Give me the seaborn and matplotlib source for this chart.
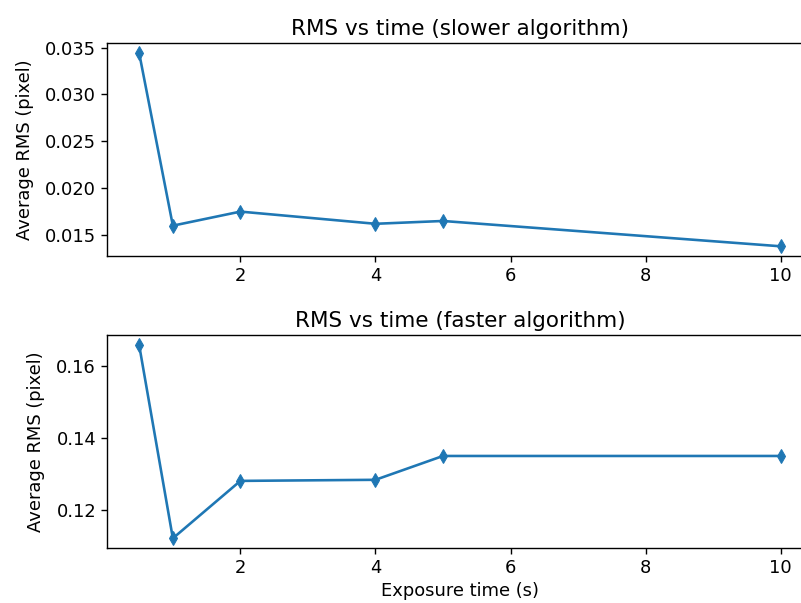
import matplotlib
matplotlib.use("Agg")
import matplotlib.pyplot as plt
import seaborn as sns
import pandas as pd

exposure = [0.5, 1, 2, 4, 5, 10]
rms_slow = [0.03445, 0.0160, 0.0175, 0.0162, 0.0165, 0.0138]
rms_fast = [0.1658, 0.1122, 0.1281, 0.1284, 0.1350, 0.1350]
titles = ["RMS vs time (slower algorithm)", "RMS vs time (faster algorithm)"]
ylabel = "Average RMS (pixel)"
xlabel = "Exposure time (s)"
xticks = [2, 4, 6, 8, 10]

s = 1.25
f = 1.03
plt.rcParams.update({
    "font.size": 10 * s * f,
    "axes.linewidth": 0.8 * s,
    "xtick.major.width": 0.8 * s,
    "ytick.major.width": 0.8 * s,
    "xtick.major.size": 3.5 * s,
    "ytick.major.size": 3.5 * s,
})

fig = plt.figure(figsize=(8.01, 6.03), dpi=100)
ax1 = fig.add_axes([0.1336, 0.5755, 0.881, 0.3532])
ax2 = fig.add_axes([0.1336, 0.0912, 0.881, 0.3532])

for ax, vals, title in [(ax1, rms_slow, titles[0]), (ax2, rms_fast, titles[1])]:
    df = pd.DataFrame({"x": exposure, "y": vals})
    sns.lineplot(data=df, x="x", y="y", ax=ax, marker="d", color="#1f77b4",
                 linewidth=1.5 * s, markersize=6 * s, markeredgecolor="#1f77b4")
    ax.set_title(title, fontsize=12 * s * f)
    ax.set_ylabel(ylabel, fontsize=10 * s * f, labelpad=8)
    ax.set_xticks(xticks)
    ax.tick_params(labelsize=10 * s * f)

ax1.set_xlabel("")
ax2.set_xlabel(xlabel, fontsize=10 * s * f)
ax1.set_yticks([0.015, 0.020, 0.025, 0.030, 0.035])
ax1.set_yticklabels(["0.015", "0.020", "0.025", "0.030", "0.035"])
ax2.set_yticks([0.12, 0.14, 0.16])

fig.savefig("out.png", dpi=100)
